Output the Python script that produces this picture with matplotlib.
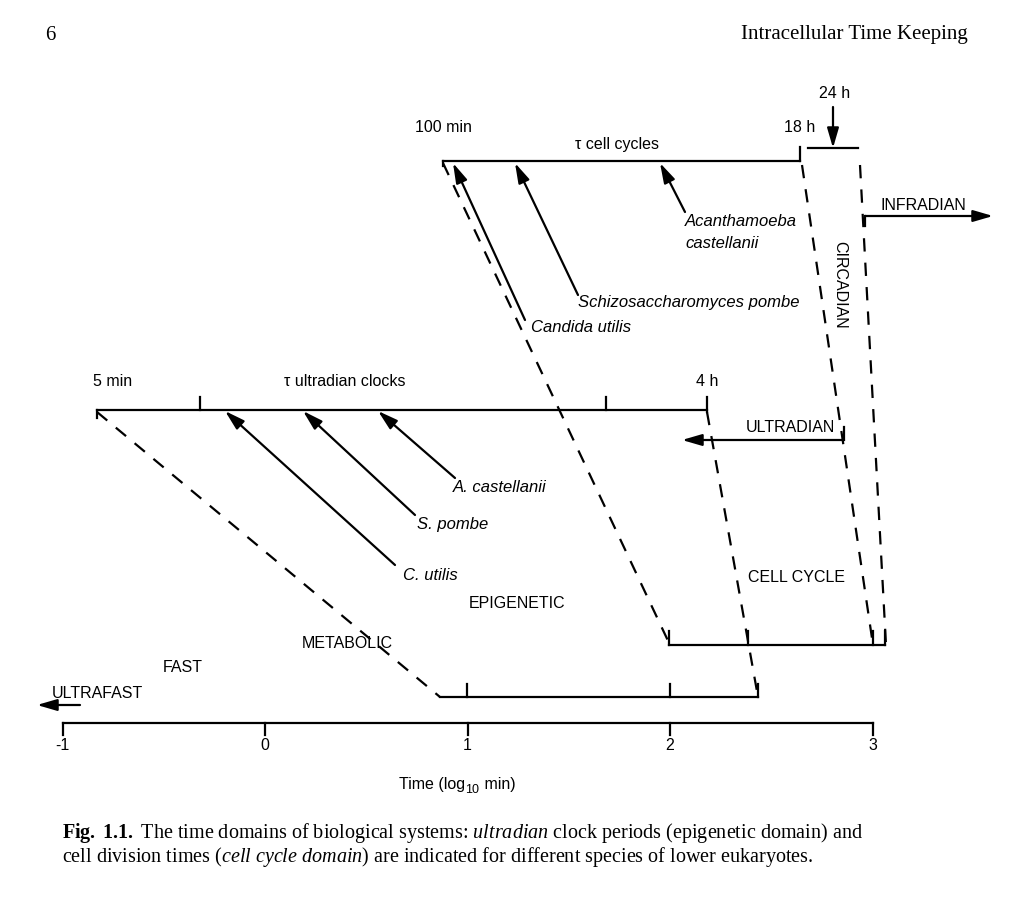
import matplotlib
matplotlib.use("Agg")
import matplotlib.pyplot as plt

plt.rcParams["font.family"] = ["Liberation Sans", "DejaVu Sans"]
plt.rcParams["mathtext.fontset"] = "custom"
plt.rcParams["mathtext.rm"] = "Liberation Serif"
plt.rcParams["mathtext.it"] = "Liberation Serif:italic"
plt.rcParams["mathtext.bf"] = "Liberation Serif:bold"

# bottom axis: log10 minutes, mapped onto page pixels
LOG_TICKS = [-1, 0, 1, 2, 3]
X0, XSCALE, AXIS_Y = 265, 202.5, 723

# diagram geometry (page pixels, y down)
top_bar = ([443, 800], [161, 161])
ultra_bar = ([97, 707], [410, 410])
ultra_bar_ticks = [200, 606]
low_bar = ([440, 758], [697, 697])
low_bar_ticks = [467, 670, 758]
cc_bar = ([669, 885], [645, 645])
cc_bar_ticks = [669, 748, 873, 885]
dashed = [((443, 670), (163, 645)), ((802, 873), (165, 645)),
          ((860, 886), (165, 645)), ((707, 758), (412, 697)),
          ((97, 440), (412, 697))]
cell_arrows = [((525, 320), (453, 163)), ((578, 295), (515, 163)),
               ((685, 212), (660, 163))]
ultra_arrows = [((455, 478), (378, 411)), ((415, 515), (303, 411)),
                ((395, 565), (225, 411))]

fig = plt.figure(figsize=(10.24, 9.02), dpi=100)
ax = fig.add_axes([0, 0, 1, 1])
ax.set_xlim(0, 1024); ax.set_ylim(902, 0); ax.axis("off")
lw = 1.6
kw = dict(color="black", lw=lw)

def seg(x, y, **k):
    ax.plot(x, y, **{**kw, **k})

def arrow(p0, p1):
    ax.annotate("", xy=p1, xytext=p0,
                arrowprops=dict(arrowstyle="-|>,head_length=1.2,head_width=0.35",
                                color="black", lw=lw, shrinkA=0, shrinkB=0))

# bars
seg(*top_bar); seg([800, 800], [147, 161]); seg([443, 443], [161, 166])
seg([808, 858], [148, 148]); arrow((833, 107), (833, 148))
seg(*ultra_bar); seg([707, 707], [397, 412]); seg([97, 97], [410, 418])
for t in ultra_bar_ticks:
    seg([t, t], [397, 410])
seg(*low_bar)
for t in low_bar_ticks:
    seg([t, t], [684, 697])
seg(*cc_bar)
for t in cc_bar_ticks:
    seg([t, t], [631, 645])
for xs, ys in dashed:
    seg(xs, ys, ls=(0, (6, 5)))
for p0, p1 in cell_arrows + ultra_arrows:
    arrow(p0, p1)

# domain arrows
arrow((865, 216), (993, 216)); seg([865, 865], [216, 226])
arrow((844, 440), (682, 440)); seg([844, 844], [427, 440])
arrow((80, 705), (37, 705))

sans = dict(fontsize=11.5, va="center")
it = dict(sans, style="italic", ha="left", fontsize=12)

# bottom axis
xt = [X0 + XSCALE * v for v in LOG_TICKS]
seg([xt[0], xt[-1]], [AXIS_Y, AXIS_Y])
for x, v in zip(xt, LOG_TICKS):
    seg([x, x], [AXIS_Y, AXIS_Y + 12])
    ax.text(x, AXIS_Y + 23, str(v), ha="center", **sans)
ax.text(465, 785, "Time (log", ha="right", **sans)
ax.text(465, 790, "10", ha="left", fontsize=9, va="center")
ax.text(480, 785, " min)", ha="left", **sans)

ax.text(443, 128, "100 min", ha="center", **sans)
ax.text(617, 145, "τ cell cycles", ha="center", **sans)
ax.text(800, 128, "18 h", ha="center", **sans)
ax.text(835, 93, "24 h", ha="center", **sans)
ax.text(113, 381, "5 min", ha="center", **sans)
ax.text(345, 381, "τ ultradian clocks", ha="center", **sans)
ax.text(707, 381, "4 h", ha="center", **sans)
ax.text(685, 222, "Acanthamoeba", **it)
ax.text(685, 243, "castellanii", **it)
ax.text(578, 302, "Schizosaccharomyces pombe", **it)
ax.text(531, 327, "Candida utilis", **it)
ax.text(453, 488, "A. castellanii", **it)
ax.text(417, 525, "S. pombe", **it)
ax.text(403, 576, "C. utilis", **it)
ax.text(923, 205, "INFRADIAN", ha="center", **sans)
ax.text(790, 428, "ULTRADIAN", ha="center", **sans)
ax.text(840, 285, "CIRCADIAN", ha="center", rotation=-90, **sans)
ax.text(797, 577, "CELL CYCLE", ha="center", **sans)
ax.text(517, 603, "EPIGENETIC", ha="center", **sans)
ax.text(347, 643, "METABOLIC", ha="center", **sans)
ax.text(183, 668, "FAST", ha="center", **sans)
ax.text(97, 693, "ULTRAFAST", ha="center", **sans)

serif = dict(family="Liberation Serif", fontsize=15, va="center")
ax.text(45, 35, "6", ha="left", **serif)
ax.text(968, 35, "Intracellular Time Keeping", ha="right", **serif)
ax.text(62, 833, r"$\bf{Fig.\ 1.1.}$ The time domains of biological systems: "
        r"$\it{ultradian}$ clock periods (epigenetic domain) and",
        ha="left", **{**serif, "fontsize": 14.5})
ax.text(62, 857, r"cell division times ($\it{cell\ cycle\ domain}$) are indicated "
        "for different species of lower eukaryotes.",
        ha="left", **{**serif, "fontsize": 14.5})

fig.savefig("out.png", dpi=100, facecolor="white")
